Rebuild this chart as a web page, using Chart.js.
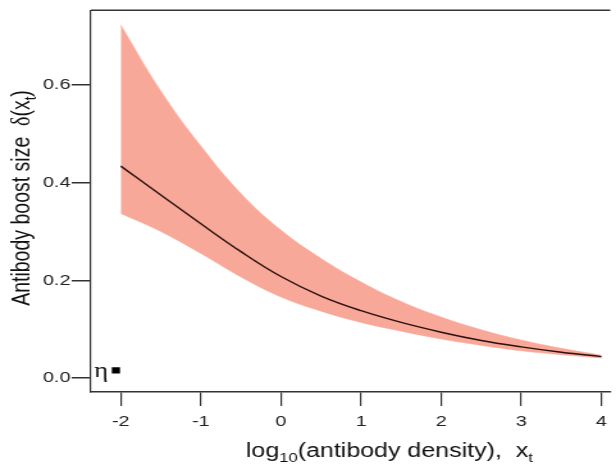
<!DOCTYPE html>
<html lang="en">
<head>
<meta charset="UTF-8">
<title>Antibody boost size</title>
<script src="https://cdn.jsdelivr.net/npm/chart.js"></script>
<style>
  html, body { margin: 0; padding: 0; background: #fff; }
</style>
</head>
<body>
<!-- the reference figure is stretched sideways, so the canvas is drawn narrow and widened -->
<canvas id="boostChart" width="481" height="468" style="width:616px;height:468px;display:block"></canvas>
<script>
// values
const logDensity = [-2, -1.5, -1, -0.5, 0, 0.5, 1, 1.5, 2, 2.5, 3, 3.5, 4];
const boostMean  = [0.434, 0.375, 0.316, 0.259, 0.208, 0.168, 0.138, 0.114, 0.094, 0.077, 0.064, 0.053, 0.044];
const boostUpper = [0.723, 0.588, 0.475, 0.378, 0.303, 0.245, 0.197, 0.157, 0.125, 0.099, 0.078, 0.061, 0.047];
const boostLower = [0.337, 0.300, 0.255, 0.207, 0.166, 0.137, 0.114, 0.096, 0.080, 0.067, 0.056, 0.048, 0.041];
const etaX = [-2.06];
const etaY = [0.016];
const xTicks = [-2, -1, 0, 1, 2, 3, 4];
const yTicks = [0, 0.2, 0.4, 0.6];

const pts = ys => logDensity.map((x, i) => ({ x: x, y: ys[i] }));
const axisColor = '#333';
const tickFont = { family: 'Liberation Sans', size: 15.5 };
const bandColor = '#f8a898';

// draw a run of text pieces centred on x (used for the subscripts)
function drawRich(ctx, parts, x, y) {
    let total = 0;
    parts.forEach(p => {
        ctx.font = p.size + 'px ' + (p.family || 'Liberation Sans');
        p.w = ctx.measureText(p.text).width;
        total += p.w;
    });
    let cx = x - total / 2;
    parts.forEach(p => {
        ctx.font = p.size + 'px ' + (p.family || 'Liberation Sans');
        ctx.fillText(p.text, cx, y + (p.dy || 0));
        cx += p.w;
    });
}

const extras = {
    id: 'extras',
    afterDraw(chart) {
        const ctx = chart.ctx;
        const a = chart.chartArea;
        ctx.save();
        // top frame line
        ctx.strokeStyle = axisColor;
        ctx.lineWidth = 1.5;
        ctx.beginPath();
        ctx.moveTo(a.left, a.top);
        ctx.lineTo(a.right, a.top);
        ctx.stroke();

        ctx.fillStyle = '#111';
        ctx.textAlign = 'left';
        ctx.textBaseline = 'alphabetic';
        // x title
        drawRich(ctx, [
            { text: 'log', size: 19.5 },
            { text: '10', size: 13, dy: 5 },
            { text: '(antibody density),  x', size: 19.5 },
            { text: 't', size: 13, dy: 5 }
        ], 304, 457);

        // y title
        ctx.save();
        ctx.translate(23, 198);
        ctx.rotate(-Math.PI / 2);
        drawRich(ctx, [
            { text: 'Antibody boost size  ', size: 19.5 },
            { text: 'δ', size: 20, family: 'Liberation Serif' },
            { text: '(x', size: 19.5 },
            { text: 't', size: 13, dy: 5 },
            { text: ')', size: 19.5 }
        ], 0, 0);
        ctx.restore();

        // eta label next to the point
        const el = chart.getDatasetMeta(3).data[0];
        ctx.font = '21px Liberation Serif';
        ctx.textAlign = 'right';
        ctx.textBaseline = 'middle';
        ctx.fillText('η', el.x - 6, el.y + 1);
        ctx.restore();
    }
};

new Chart(document.getElementById('boostChart'), {
    type: 'line',
    data: {
        datasets: [
            {
                label: 'upper',
                data: pts(boostUpper),
                borderColor: bandColor,
                backgroundColor: bandColor,
                borderWidth: 0.5,
                pointRadius: 0,
                fill: '+1',
                order: 3,
                tension: 0.4
            },
            {
                label: 'lower',
                data: pts(boostLower),
                borderColor: bandColor,
                borderWidth: 0.5,
                pointRadius: 0,
                fill: false,
                order: 3,
                tension: 0.4
            },
            {
                label: 'mean',
                data: pts(boostMean),
                borderColor: '#2a1010',
                borderWidth: 1.4,
                pointRadius: 0,
                fill: false,
                order: 1,
                tension: 0.4
            },
            {
                label: 'eta',
                type: 'scatter',
                data: etaX.map((x, i) => ({ x: x, y: etaY[i] })),
                pointStyle: 'rect',
                pointRadius: 4.5,
                backgroundColor: '#000',
                borderColor: '#000',
                borderWidth: 0,
                order: 0
            }
        ]
    },
    options: {
        responsive: false,
        devicePixelRatio: 1,
        animation: false,
        events: [],
        layout: { padding: { top: 7, right: 0, left: 0, bottom: 0 } },
        plugins: {
            legend: { display: false },
            tooltip: { enabled: false }
        },
        scales: {
            x: {
                type: 'linear',
                min: -2.372,
                max: 4.11,
                afterBuildTicks: s => { s.ticks = xTicks.map(v => ({ value: v })); },
                afterFit: s => { s.height = 76; },
                grid: { drawOnChartArea: false, tickLength: 14, color: axisColor, lineWidth: 1.2 },
                border: { display: true, color: axisColor, width: 1.5 },
                ticks: { font: tickFont, color: '#222', padding: 6, callback: v => String(v) }
            },
            y: {
                min: -0.0284,
                max: 0.753,
                afterBuildTicks: s => { s.ticks = yTicks.map(v => ({ value: v })); },
                afterFit: s => { s.width = 71; },
                grid: { drawOnChartArea: false, tickLength: 15, color: axisColor, lineWidth: 1.5 },
                border: { display: true, color: axisColor, width: 1.2 },
                ticks: { font: tickFont, color: '#222', padding: 1, callback: v => v.toFixed(1) }
            }
        }
    },
    plugins: [extras]
});
</script>
</body>
</html>
